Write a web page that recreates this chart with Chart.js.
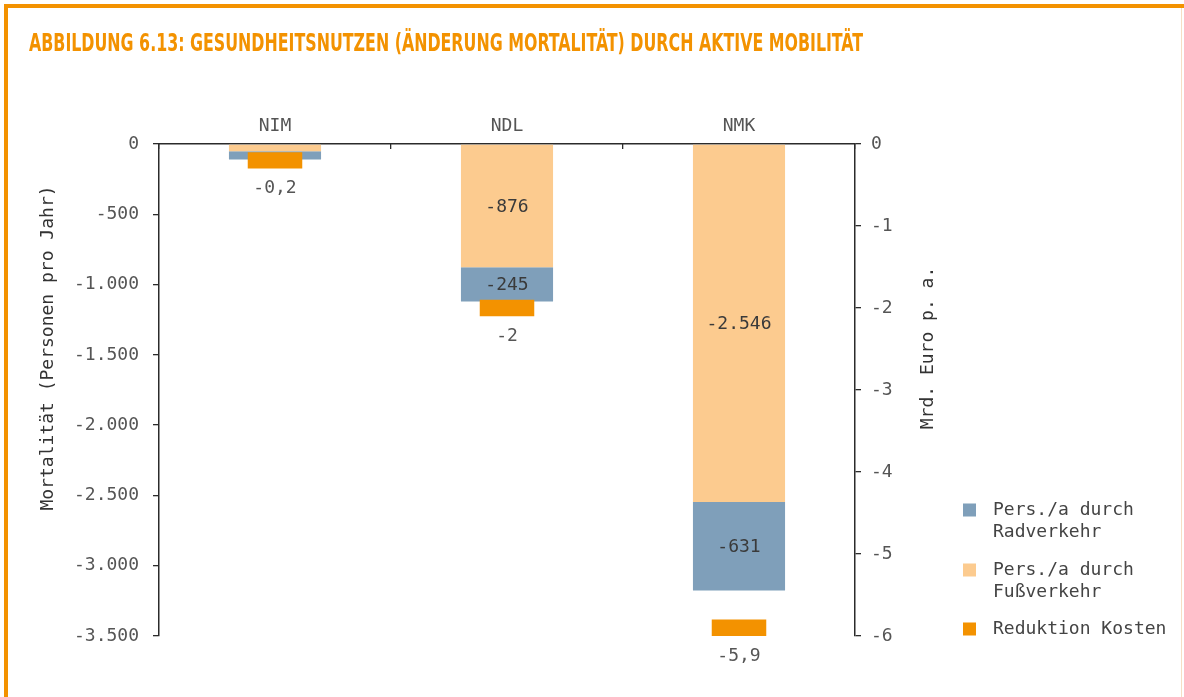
<!DOCTYPE html>
<html><head><meta charset="utf-8">
<script src="https://cdn.jsdelivr.net/npm/chart.js@4/dist/chart.umd.min.js"></script>
<style>
html,body{margin:0;padding:0;background:#fff;}
#wrap{position:relative;width:1184px;height:697px;overflow:hidden;background:#fff;}
#frameTop{position:absolute;left:4px;top:4px;right:0;height:4px;background:#F39200;}
#frameLeft{position:absolute;left:4px;top:4px;width:4px;bottom:0;background:#F39200;}
#frameRight{position:absolute;right:2px;top:8px;width:1px;bottom:0;background:#f6dfc4;}
#title{position:absolute;left:29px;top:31px;font-family:'DejaVu Sans Condensed','DejaVu Sans',sans-serif;font-weight:bold;font-size:24px;line-height:24px;color:#F39200;white-space:nowrap;transform-origin:0 0;}
canvas{position:absolute;left:0;top:0;}
</style></head>
<body>
<div id="wrap">
  <canvas id="c" width="1184" height="697"></canvas>
  <div id="frameTop"></div><div id="frameLeft"></div><div id="frameRight"></div>
  <div id="title">ABBILDUNG 6.13: GESUNDHEITSNUTZEN (ÄNDERUNG MORTALITÄT) DURCH AKTIVE MOBILITÄT</div>
</div>
<script>
// ---- data ----
const categories = ['NIM', 'NDL', 'NMK'];
const fussValues = [-52, -876, -2546];      // Pers./a durch Fußverkehr
const radValues = [-59, -245, -631];        // Pers./a durch Radverkehr
const kostenValues = [-0.2, -2, -5.9];      // Reduktion Kosten (Mrd. Euro p. a.)
const seriesLabels = ['Pers./a durch\nFußverkehr', 'Pers./a durch\nRadverkehr', 'Reduktion Kosten'];
const leftAxisTitle = 'Mortalität (Personen pro Jahr)';
const rightAxisTitle = 'Mrd. Euro p. a.';

// ---- styling ----
const MONO = '"DejaVu Sans Mono", "Liberation Mono", monospace';
const FS = 18;
const C_FUSS = '#FCCB8F';
const C_RAD = '#7F9FBA';
const C_KOST = '#F39200';
const TXT = '#555555';
const AXIS = '#2b2b2b';
const MARK_HALF = 0.1; // half height of the cost marker bar (in Mrd. Euro)

function fmtDE(v) {
  const neg = v < 0;
  const parts = Math.abs(v).toString().split('.');
  const intPart = parts[0].replace(/\B(?=(\d{3})+(?!\d))/g, '.');
  return (neg ? '-' : '') + intPart + (parts[1] ? ',' + parts[1] : '');
}

// fit the title width
const t = document.getElementById('title');
const tw = t.getBoundingClientRect().width;
t.style.transform = 'scaleX(' + (834 / tw) + ')';

const labelPlugin = {
  id: 'labelsAndLegend',
  afterDatasetsDraw(chart) {
    const ctx = chart.ctx;
    ctx.save();
    ctx.font = FS + 'px ' + MONO;
    ctx.textAlign = 'center';
    ctx.textBaseline = 'middle';
    // in-bar labels for stacked series
    [0, 1].forEach(di => {
      const meta = chart.getDatasetMeta(di);
      meta.data.forEach((el, j) => {
        const h = Math.abs(el.base - el.y);
        if (h < 20) return;
        ctx.fillStyle = '#3a3a3a';
        ctx.fillText(fmtDE(chart.data.datasets[di].data[j]), el.x, (el.y + el.base) / 2 + 1);
      });
    });
    // cost labels below marker
    const km = chart.getDatasetMeta(2);
    km.data.forEach((el, j) => {
      const bottom = Math.max(el.y, el.base);
      ctx.fillStyle = TXT;
      ctx.fillText(fmtDE(kostenValues[j]), el.x, bottom + 20);
    });
    // axis titles
    ctx.fillStyle = '#333';
    ctx.save();
    ctx.translate(48, 348);
    ctx.rotate(-Math.PI / 2);
    ctx.fillText(leftAxisTitle, 0, 0);
    ctx.restore();
    ctx.save();
    ctx.translate(928, 348);
    ctx.rotate(-Math.PI / 2);
    ctx.fillText(rightAxisTitle, 0, 0);
    ctx.restore();
    // legend
    const order = [1, 0, 2];
    const ys = [510, 570, 629];
    ctx.textAlign = 'left';
    order.forEach((di, k) => {
      const ds = chart.data.datasets[di];
      ctx.fillStyle = ds.backgroundColor;
      ctx.fillRect(963, ys[k] - 6.5, 13, 13);
      ctx.fillStyle = '#444';
      ds.label.split('\n').forEach((line, li) => {
        ctx.fillText(line, 993, ys[k] + li * 22);
      });
    });
    ctx.restore();
  }
};

new Chart(document.getElementById('c'), {
  type: 'bar',
  data: {
    labels: categories,
    datasets: [
      { label: seriesLabels[0], data: fussValues, backgroundColor: C_FUSS, yAxisID: 'y', stack: 'p', barPercentage: 0.397, categoryPercentage: 1, grouped: false, order: 2 },
      { label: seriesLabels[1], data: radValues, backgroundColor: C_RAD, yAxisID: 'y', stack: 'p', barPercentage: 0.397, categoryPercentage: 1, grouped: false, order: 2 },
      { label: seriesLabels[2], data: kostenValues.map(v => [v - MARK_HALF, v + MARK_HALF]), backgroundColor: C_KOST, yAxisID: 'y2', barPercentage: 0.235, categoryPercentage: 1, grouped: false, order: 1 }
    ]
  },
  options: {
    responsive: false,
    animation: false,
    layout: { padding: { left: 0, right: 0, top: 0, bottom: 61 } },
    plugins: { legend: { display: false }, tooltip: { enabled: false }, title: { display: false } },
    scales: {
      x: {
        position: 'top',
        offset: true,
        grid: { display: true, drawOnChartArea: false, offset: true, tickLength: -5, color: AXIS, lineWidth: 1.3 },
        border: { display: true, color: AXIS, width: 1.5 },
        ticks: { font: { family: MONO, size: FS }, color: TXT, padding: 12 },
        afterFit(s) { s.height = 144; }
      },
      y: {
        position: 'left',
        stacked: true,
        min: -3500, max: 0,
        grid: { drawOnChartArea: false, tickLength: 6, color: AXIS, lineWidth: 1.3 },
        border: { display: true, color: AXIS, width: 1.5 },
        ticks: { stepSize: 500, font: { family: MONO, size: FS }, color: TXT, padding: 14, callback: v => fmtDE(v) },
        afterFit(s) { s.width = 159; }
      },
      y2: {
        position: 'right',
        min: -6, max: 0,
        grid: { drawOnChartArea: false, tickLength: 6, color: AXIS, lineWidth: 1.3 },
        border: { display: true, color: AXIS, width: 1.5 },
        ticks: { stepSize: 1, font: { family: MONO, size: FS }, color: TXT, padding: 10, callback: v => fmtDE(v) },
        afterFit(s) { s.width = 329; }
      }
    }
  },
  plugins: [labelPlugin]
});
</script>
</body></html>
